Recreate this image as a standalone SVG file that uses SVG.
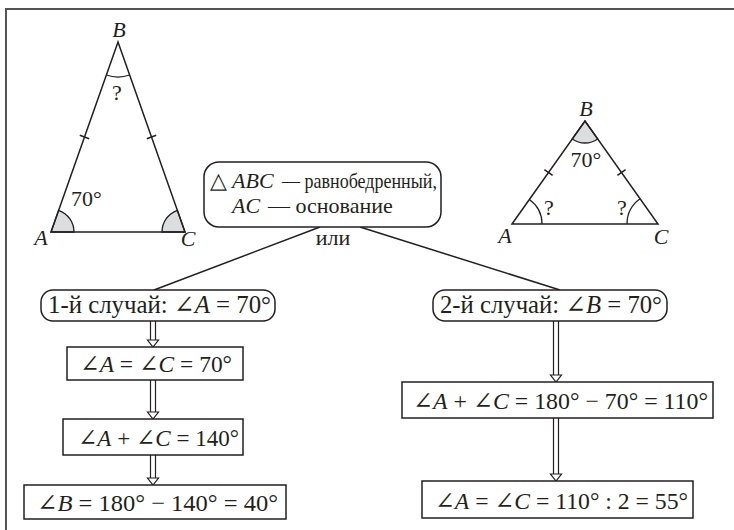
<svg xmlns="http://www.w3.org/2000/svg" width="734" height="530" viewBox="0 0 734 530">
<defs>
<style>
text{font-family:"Liberation Serif","Times New Roman",serif;font-size:22px;fill:#231f20}
.i{font-style:italic}
.g{font-family:"DejaVu Serif","DejaVu Sans","Liberation Serif",serif;font-weight:normal}
.ln{stroke:#231f20;stroke-width:1.5;fill:none}
.box{stroke:#231f20;stroke-width:1.5;fill:#fff}
.sec{fill:#dcddde;stroke:#231f20;stroke-width:1.3}
.arc{fill:none;stroke:#231f20;stroke-width:1.3}
.ar{stroke:#231f20;stroke-width:1.2;fill:none}
.hd{stroke:#231f20;stroke-width:1.2;fill:#fff;stroke-linejoin:miter}
.m{text-anchor:middle}
.k{font-size:25px}
.f{font-size:24px}
</style>
</defs>
<rect x="0" y="0" width="734" height="530" fill="#fff"/>
<path d="M6,530 L6,9 L734,9" fill="none" stroke="#555" stroke-width="2"/>

<g id="triangle-left">
<path class="sec" d="M51,232 L74,232 A23,23 0 0 0 58.65,210.31 Z"/>
<path class="sec" d="M185,232 L162,232 A23,23 0 0 1 177.35,210.31 Z"/>
<path class="arc" d="M106.36,75 A35,35 0 0 0 129.64,75"/>
<path class="ln" d="M51,232 L118,42 L185,232 Z" stroke-linejoin="miter"/>
<path class="ln" d="M79.8,135.3 L89.2,138.7 M146.8,138.7 L156.2,135.3"/>
<text class="i m" x="119" y="37">B</text>
<text class="i m" x="41" y="245">A</text>
<text class="i m" x="188" y="246">C</text>
<text class="m" x="117" y="100" font-size="20">?</text>
<text x="71" y="206" font-size="23">70°</text>
</g>

<g id="triangle-right">
<path class="sec" d="M585,121 L572.3,138.96 A22,22 0 0 0 597.7,138.96 Z"/>
<path class="arc" d="M542,224 A30,30 0 0 0 529.3,199.5"/>
<path class="arc" d="M627,224 A31,31 0 0 1 640.1,198.7"/>
<path class="ln" d="M512,224 L585,121 L658,224 Z" stroke-linejoin="miter"/>
<path class="ln" d="M544.4,169.6 L552.6,175.4 M617.4,175.4 L625.6,169.6"/>
<text class="i m" x="586" y="116">B</text>
<text class="i m" x="505" y="243">A</text>
<text class="i m" x="661" y="244">C</text>
<text class="m" x="586" y="167" font-size="23">70°</text>
<text class="m" x="549" y="215" font-size="20">?</text>
<text class="m" x="622" y="215" font-size="20">?</text>
</g>

<g id="connectors">
<path class="ln" d="M320,227 L154,290 M360,227 L560,290"/>
<path class="ar" d="M150.5,321 V340 M155.5,321 V340"/>
<path class="hd" d="M147.5,340 H158.5 L153,347 Z"/>
<path class="ar" d="M150.5,380 V412 M155.5,380 V412"/>
<path class="hd" d="M147.5,412 H158.5 L153,419 Z"/>
<path class="ar" d="M150.5,455 V478 M155.5,455 V478"/>
<path class="hd" d="M147.5,478 H158.5 L153,485 Z"/>
<path class="ar" d="M553.5,321 V375 M558.5,321 V375"/>
<path class="hd" d="M550.5,375 H561.5 L556,382 Z"/>
<path class="ar" d="M553.5,418 V474 M558.5,418 V474"/>
<path class="hd" d="M550.5,474 H561.5 L556,481 Z"/>
<text class="m" x="333" y="245" font-size="23">или</text>
</g>

<g id="node-given">
<rect class="box" x="204" y="162" width="237" height="65" rx="15"/>
<text x="210" y="188">△</text>
<text class="i" x="232" y="188" font-size="23">ABC</text>
<text x="282" y="188" font-size="21" textLength="155" lengthAdjust="spacingAndGlyphs">— равнобедренный,</text>
<text class="i" x="232" y="213" font-size="23">AC</text>
<text x="268" y="213">— основание</text>
</g>

<g id="node-case1">
<rect class="box" x="41" y="290" width="234" height="31" rx="12"/>
<text class="k" x="48" y="313" textLength="223" lengthAdjust="spacingAndGlyphs">1-й случай: <tspan class="g">∠</tspan><tspan class="i">A</tspan> = 70°</text>
</g>
<g id="node-l2">
<rect class="box" x="67" y="347" width="176" height="33"/>
<text class="f" x="80" y="372" textLength="152" lengthAdjust="spacingAndGlyphs"><tspan class="g">∠</tspan><tspan class="i">A</tspan> = <tspan class="g">∠</tspan><tspan class="i">C</tspan> = 70°</text>
</g>
<g id="node-l3">
<rect class="box" x="63" y="419" width="180" height="36"/>
<text class="f" x="78" y="446" textLength="161" lengthAdjust="spacingAndGlyphs"><tspan class="g">∠</tspan><tspan class="i">A</tspan> + <tspan class="g">∠</tspan><tspan class="i">C</tspan> = 140°</text>
</g>
<g id="node-l4">
<rect class="box" x="24" y="485" width="262" height="34"/>
<text class="f" x="37" y="511" textLength="241" lengthAdjust="spacingAndGlyphs"><tspan class="g">∠</tspan><tspan class="i">B</tspan> = 180° − 140° = 40°</text>
</g>

<g id="node-case2">
<rect class="box" x="433" y="290" width="234" height="31" rx="12"/>
<text class="k" x="440" y="313" textLength="222" lengthAdjust="spacingAndGlyphs">2-й случай: <tspan class="g">∠</tspan><tspan class="i">B</tspan> = 70°</text>
</g>
<g id="node-r2">
<rect class="box" x="402" y="382" width="311" height="36"/>
<text class="f" x="413" y="409" textLength="295" lengthAdjust="spacingAndGlyphs"><tspan class="g">∠</tspan><tspan class="i">A</tspan> + <tspan class="g">∠</tspan><tspan class="i">C</tspan> = 180° − 70° = 110°</text>
</g>
<g id="node-r3">
<rect class="box" x="422" y="481" width="271" height="37"/>
<text class="f" x="435" y="509" textLength="253" lengthAdjust="spacingAndGlyphs"><tspan class="g">∠</tspan><tspan class="i">A</tspan> = <tspan class="g">∠</tspan><tspan class="i">C</tspan> = 110° : 2 = 55°</text>
</g>
</svg>
